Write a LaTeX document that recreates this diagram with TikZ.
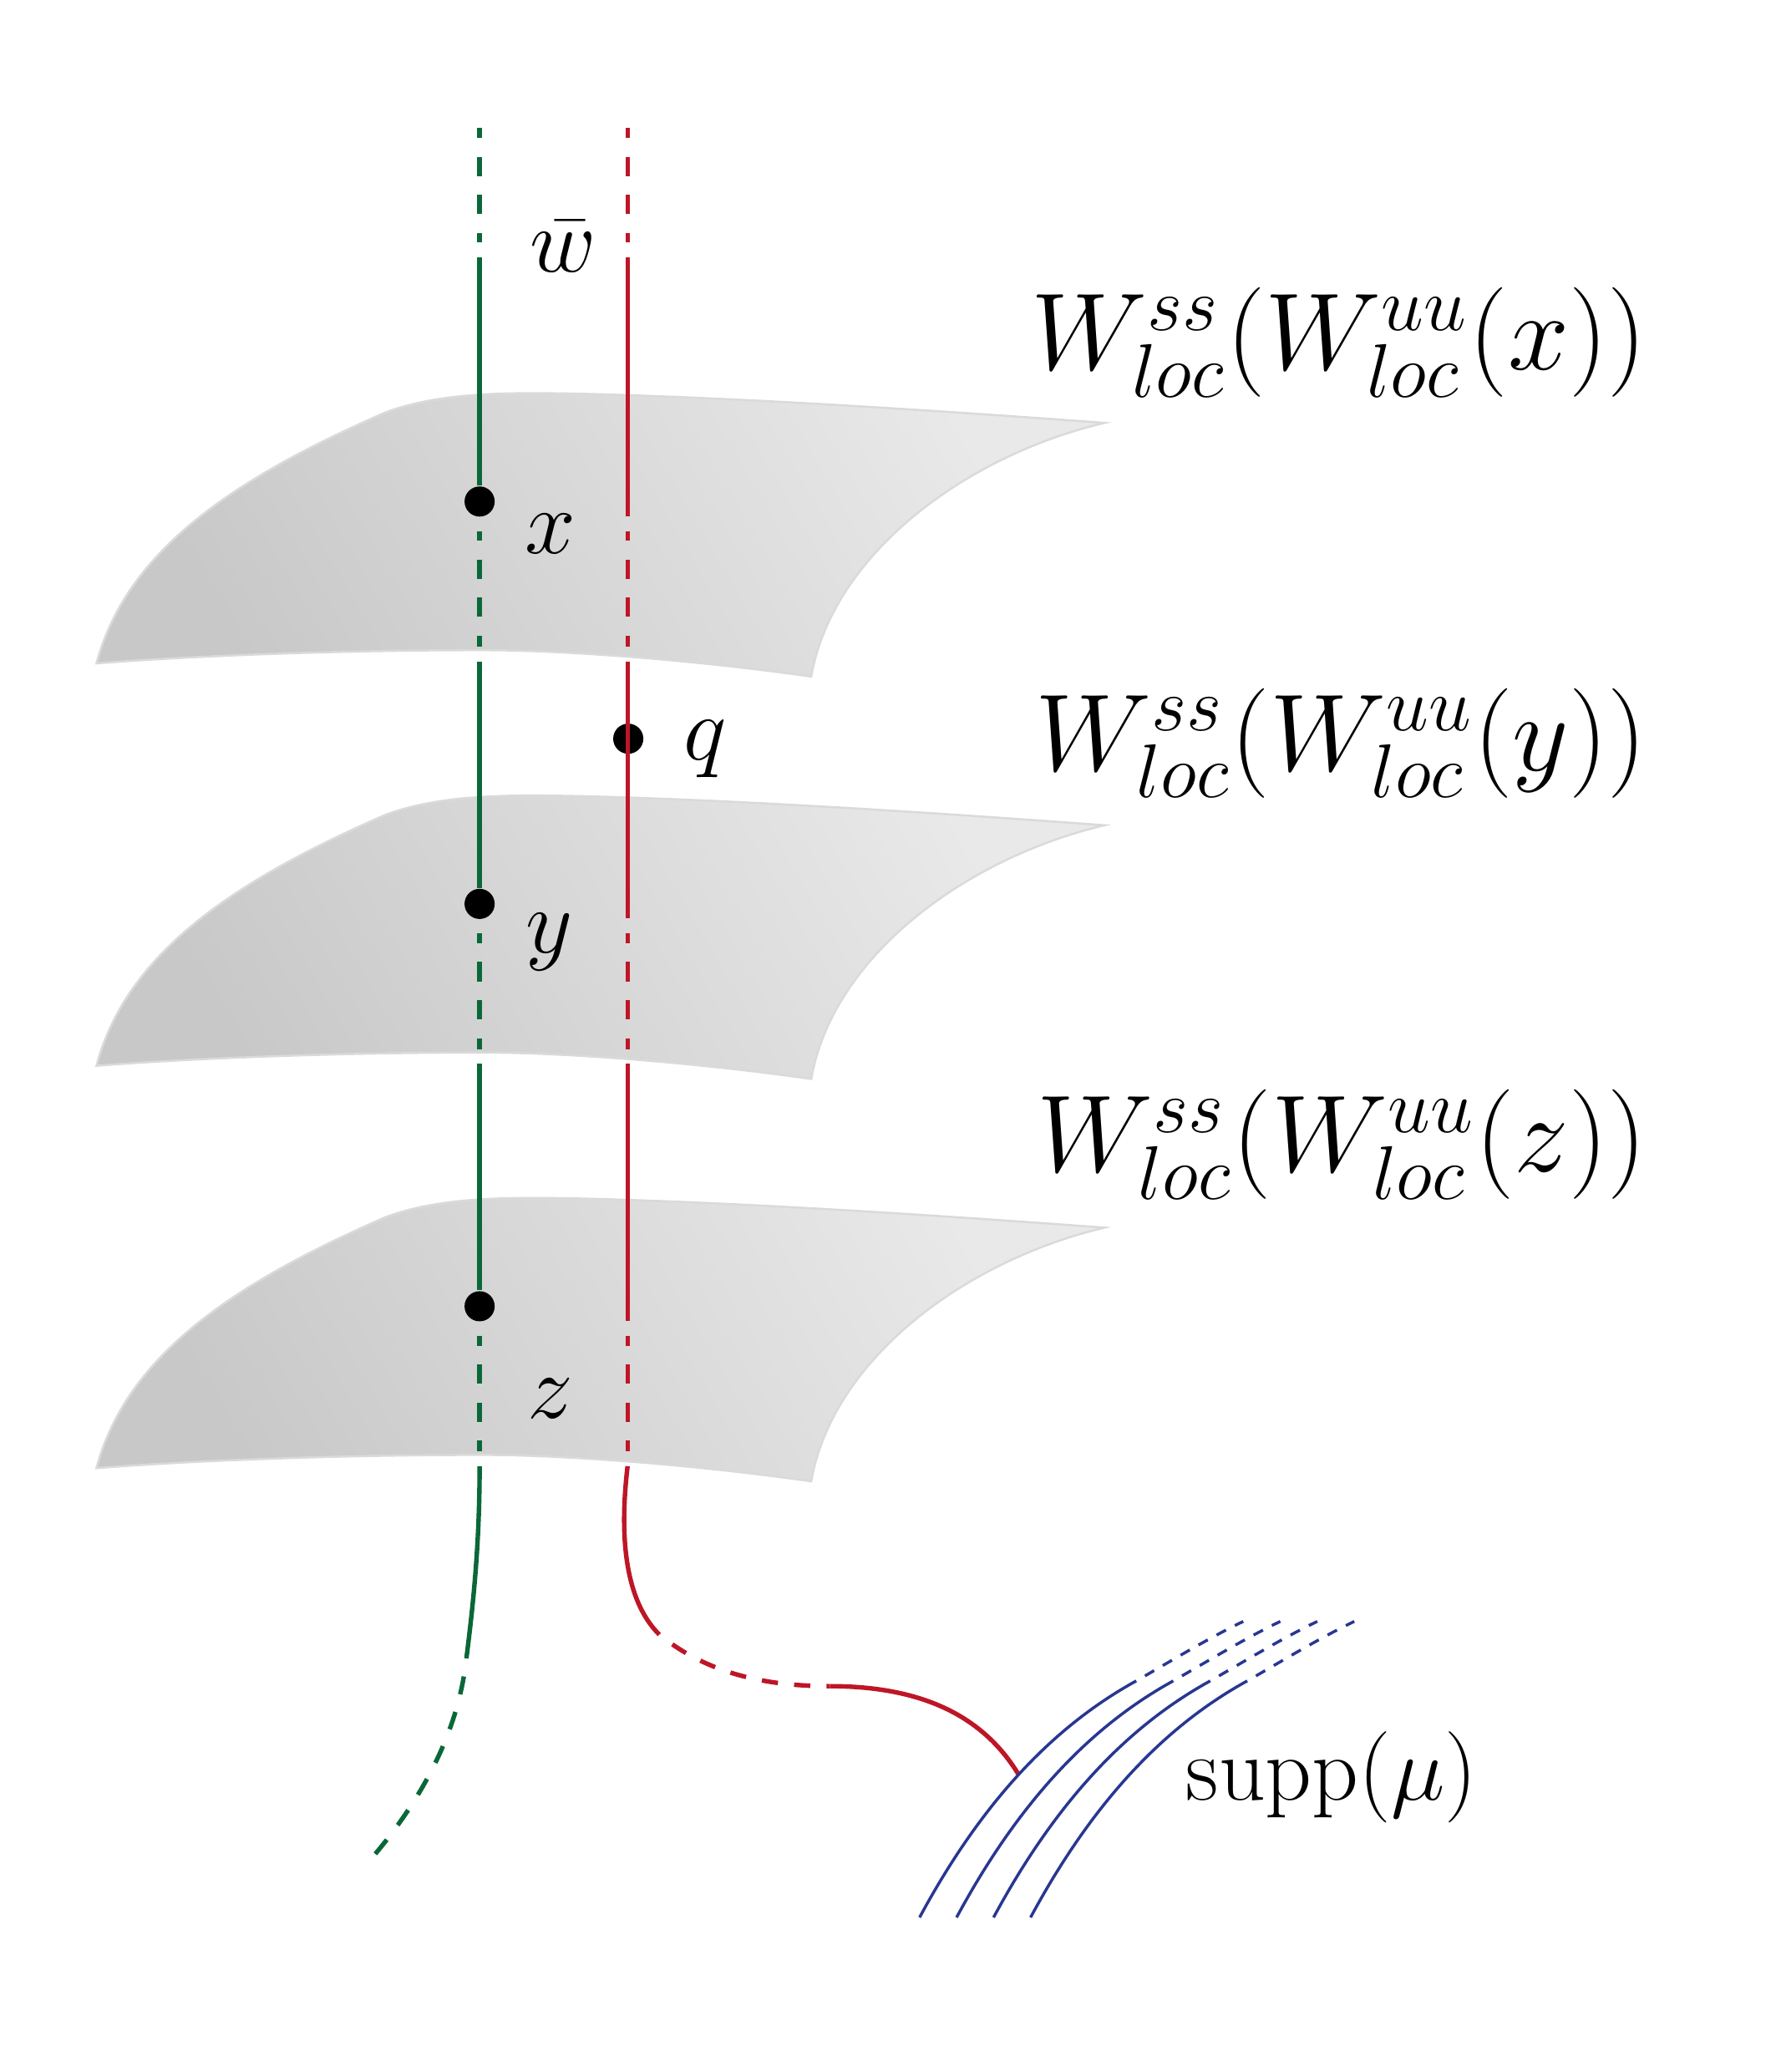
\documentclass[tikz,border=0pt]{standalone}
\definecolor{grn}{RGB}{10,104,56}
\definecolor{rd}{RGB}{190,22,38}
\definecolor{bl}{RGB}{40,55,145}
\definecolor{sfL}{RGB}{200,200,200}
\definecolor{sfR}{RGB}{233,233,233}
\definecolor{sfE}{RGB}{218,218,218}
\begin{document}
\begin{tikzpicture}[x=0.25pt,y=-0.25pt,
  sheet/.style={draw=sfE, line width=0.4pt, left color=sfL, right color=sfR, shading angle=120},
  gline/.style={grn, line width=0.85pt},
  rline/.style={rd, line width=0.85pt},
  hid/.style={dash pattern=on 3.65pt off 3.55pt, dash phase=1.8pt},
  bline/.style={bl, line width=0.55pt},
  blob/.style={circle, fill=black, inner sep=0pt, minimum size=5.7pt},
  lab/.style={inner sep=0pt, font=\fontsize{18}{22}\selectfont},
  wlab/.style={inner sep=0pt, anchor=base east, font=\fontsize{20.6}{24}\selectfont}]
\useasboundingbox (0,0) rectangle (1344,1568);

% surfaces
\foreach \k in {0,1,2}{
  \begin{scope}[shift={(0,\k*304.5)}]
    \path[sheet] (73,502) .. controls (95,420) and (170,365) .. (292,312)
      .. controls (335,296) and (390,297) .. (441,298)
      .. controls (560,301) and (700,310) .. (836,320)
      .. controls (730,345) and (630,420) .. (614,512)
      .. controls (530,500) and (430,492) .. (365,492)
      .. controls (260,492) and (150,496) .. (73,502) -- cycle;
  \end{scope}
}

% points
\node[blob] (x) at (363,379.5) {};
\node[blob] (y) at (363,684) {};
\node[blob] (z) at (363,988.5) {};
\node[blob] (q) at (475.5,559) {};

% green line coordinates
\coordinate (g0) at (363,97);
\coordinate (g0a) at (363,183.5);
\coordinate (g0b) at (363,194.7);
\coordinate (g1a) at (363,401.9);
\coordinate (g1b) at (363,489.4);
\coordinate (g1c) at (363,500.5);
\coordinate (g2a) at (363,706.4);
\coordinate (g2b) at (363,793.9);
\coordinate (g2c) at (363,805);
\coordinate (g3a) at (363,1010.9);
\coordinate (g3b) at (363,1098.4);
\coordinate (g3c) at (363,1109.5);
\coordinate (gbend) at (353,1255);
\coordinate (gend) at (284,1403);

\draw[gline,hid] (g0) -- (g0a);
\draw[gline] (g0b) -- (x);
\draw[gline,hid] (g1a) -- (g1b);
\draw[gline] (g1c) -- (y);
\draw[gline,hid] (g2a) -- (g2b);
\draw[gline] (g2c) -- (z);
\draw[gline,hid] (g3a) -- (g3b);
\draw[gline] (g3c) .. controls (363,1170) and (358,1215) .. (gbend);
\draw[gline, dash pattern=on 3.45pt off 3.45pt, dash phase=3.45pt] (gbend) .. controls (347,1310) and (320,1360) .. (gend);

% red line coordinates
\coordinate (r0) at (475,97);
\coordinate (r0a) at (475,183.5);
\coordinate (r0b) at (475,194.7);
\coordinate (r1s) at (475,390.5);
\coordinate (r1a) at (475,401.9);
\coordinate (r1b) at (475,489.4);
\coordinate (r1c) at (475,500.5);
\coordinate (r2s) at (475,695);
\coordinate (r2a) at (475,706.4);
\coordinate (r2b) at (475,793.9);
\coordinate (r2c) at (475,805);
\coordinate (r3s) at (475,999.5);
\coordinate (r3a) at (475,1010.9);
\coordinate (r3b) at (475,1098.4);
\coordinate (r3c) at (475,1109.5);
\coordinate (rb1) at (499,1237);
\coordinate (rb2) at (628,1276);
\coordinate (rend) at (771,1343);

\draw[rline,hid] (r0) -- (r0a);
\draw[rline] (r0b) -- (r1s);
\draw[rline,hid] (r1a) -- (r1b);
\draw[rline] (r1c) -- (r2s);
\draw[rline,hid] (r2a) -- (r2b);
\draw[rline] (r2c) -- (r3s);
\draw[rline,hid] (r3a) -- (r3b);
\draw[rline] (r3c) .. controls (469,1160) and (472,1210) .. (rb1);
\draw[rline, dash pattern=on 3.07pt off 3.07pt, dash phase=3.07pt] (rb1) .. controls (530,1262) and (570,1276) .. (rb2);
\draw[rline] (rb2) .. controls (700,1276) and (745,1300) .. (rend);

% support lines
\foreach \i in {0,1,2,3}{
  \begin{scope}[shift={(\i*28,0)}]
    \coordinate (b\i s) at (696,1451);
    \coordinate (b\i m) at (860,1272);
    \coordinate (b\i e) at (941,1227);
    \draw[bline] (b\i s) .. controls (745,1360) and (800,1305) .. (b\i m);
    \draw[bline, dash pattern=on 2pt off 1.9pt, dash phase=2pt] (b\i m) .. controls (888,1256) and (914,1240) .. (b\i e);
  \end{scope}
}

% labels
\node[lab, anchor=base] (wbar) at (426,205.5) {$\bar w$};
\node[lab, anchor=base] (xl) at (416.6,419) {$x$};
\node[lab, anchor=base] (yl) at (416,721) {$y$};
\node[lab, anchor=base] (zl) at (416.5,1073) {$z$};
\node[lab, anchor=base] (ql) at (533.5,575) {$q$};
\node[wlab] (Wx) at (1247,280) {$W^{ss}_{loc}(W^{uu}_{loc}(x))$};
\node[wlab] (Wy) at (1247,583) {$W^{ss}_{loc}(W^{uu}_{loc}(y))$};
\node[wlab] (Wz) at (1247,887) {$W^{ss}_{loc}(W^{uu}_{loc}(z))$};
\node[inner sep=0pt, anchor=base west, font=\fontsize{16.5}{20}\selectfont] (supp) at (897,1362) {$\mathrm{supp}(\mu)$};
\end{tikzpicture}
\end{document}
